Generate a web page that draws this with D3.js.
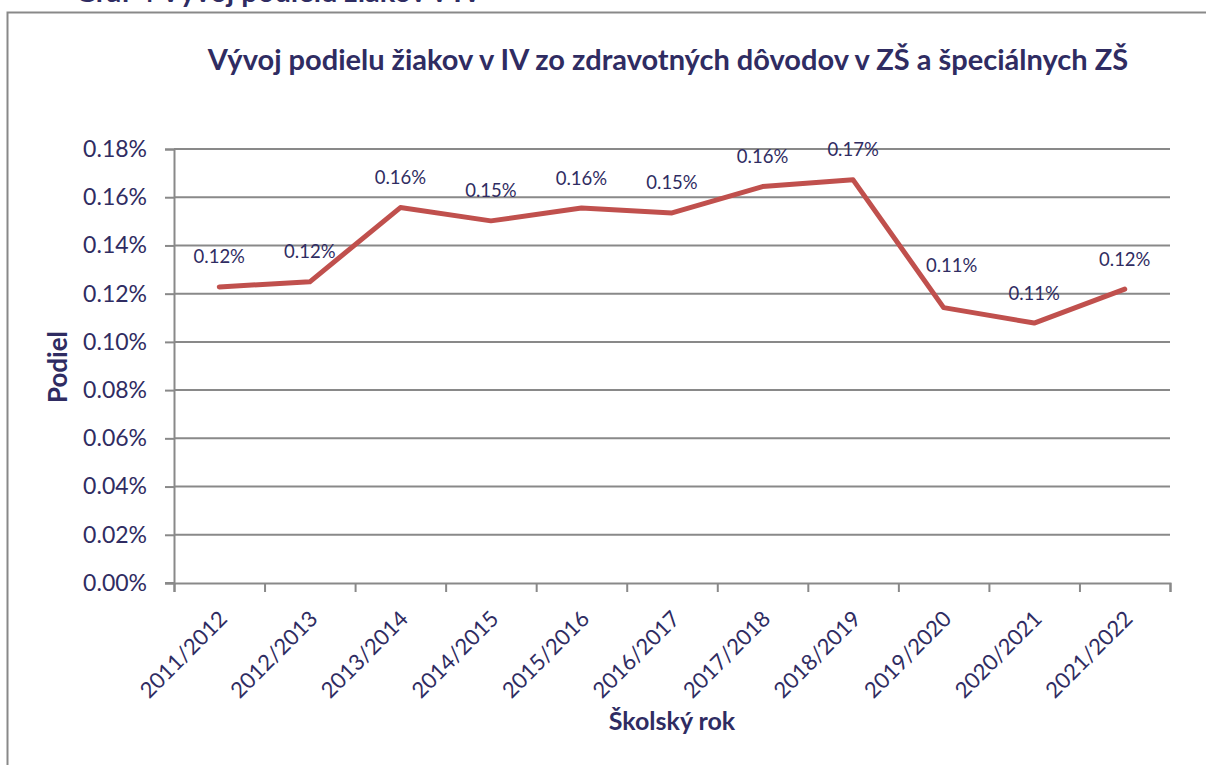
<!DOCTYPE html>
<html>
<head>
<meta charset="utf-8">
<script src="https://cdn.jsdelivr.net/npm/d3@7"></script>
<style>
  body { margin: 0; background: #fff; }
  text { font-family: Lato, "Open Sans", sans-serif; fill: #2f2c62; }
</style>
</head>
<body>
<script>
// data (share of pupils, as fraction)
var years = ["2011/2012", "2012/2013", "2013/2014", "2014/2015", "2015/2016", "2016/2017",
             "2017/2018", "2018/2019", "2019/2020", "2020/2021", "2021/2022"];
var podiel = [0.001228, 0.001249, 0.001557, 0.001502, 0.001555, 0.001535,
              0.001644, 0.001672, 0.001142, 0.001078, 0.001219];
var yTicks = [0, 0.0002, 0.0004, 0.0006, 0.0008, 0.0010, 0.0012, 0.0014, 0.0016, 0.0018];

var W = 1206, H = 765;
var margin = {top: 149, bottom: 182, left: 174, right: 36};

var svg = d3.select("body").append("svg")
    .attr("width", W)
    .attr("height", H);

// chart frame (cut off at right and bottom)
svg.append("rect")
    .attr("x", 7.5).attr("y", 12.5)
    .attr("width", W + 10).attr("height", H + 10)
    .attr("fill", "none")
    .attr("stroke", "#898989")
    .attr("stroke-width", 2);

// heading above the frame, mostly cut off
svg.append("text")
    .attr("x", 75).attr("y", 2)
    .style("font-size", "29px")
    .style("font-weight", "bold")
    .text("Graf 4 Vývoj podielu žiakov v IV");

var x = d3.scaleBand()
    .domain(years)
    .range([margin.left, W - margin.right]);

var y = d3.scaleLinear()
    .domain([0, 0.0018])
    .range([H - margin.bottom, margin.top]);

var fmt = d3.format(".2%");

// gridlines + y axis
var yAxis = svg.append("g")
    .attr("transform", "translate(" + margin.left + ",0)")
    .call(d3.axisLeft(y).tickValues(yTicks).tickFormat(fmt).tickSize(9).tickPadding(18));
yAxis.select(".domain").attr("stroke", "#898989").attr("stroke-width", 2);
yAxis.selectAll(".tick line").attr("stroke", "#898989").attr("stroke-width", 2);
yAxis.selectAll(".tick text").style("font-size", "23px").attr("fill", "#2f2c62");

svg.append("g")
    .selectAll("line")
    .data(yTicks.slice(1))
    .join("line")
    .attr("x1", margin.left).attr("x2", W - margin.right)
    .attr("y1", d => y(d)).attr("y2", d => y(d))
    .attr("stroke", "#898989")
    .attr("stroke-width", 2);

// x axis: ticks at band edges
var edges = d3.range(years.length + 1);
var xEdge = d3.scaleLinear().domain([0, years.length]).range(x.range());
var xAxis = svg.append("g")
    .attr("transform", "translate(0," + y(0) + ")")
    .call(d3.axisBottom(xEdge).tickValues(edges).tickFormat("").tickSize(9).tickSizeOuter(9));
xAxis.select(".domain").attr("stroke", "#898989").attr("stroke-width", 2);
xAxis.selectAll(".tick line").attr("stroke", "#898989").attr("stroke-width", 2);

svg.append("line")
    .attr("x1", margin.left - 9).attr("x2", margin.left)
    .attr("y1", y(0)).attr("y2", y(0))
    .attr("stroke", "#898989").attr("stroke-width", 2);

// rotated category labels
svg.append("g")
    .selectAll("text")
    .data(years)
    .join("text")
    .attr("transform", d => "translate(" + (x(d) + x.bandwidth() / 2 - 2) + "," + (y(0) + 26) + ") rotate(-45)")
    .attr("text-anchor", "end")
    .attr("dy", "0.72em")
    .style("font-size", "22px")
    .text(d => d);

// line
var line = d3.line()
    .x((d, i) => x(years[i]) + x.bandwidth() / 2)
    .y(d => y(d));

svg.append("path")
    .datum(podiel)
    .attr("d", line)
    .attr("fill", "none")
    .attr("stroke", "#c0504d")
    .attr("stroke-width", 5)
    .attr("stroke-linejoin", "round")
    .attr("stroke-linecap", "round");

// data labels, pushed further off a steep drop like the original
function steepDrop(i) {
    return i > 0 && podiel[i - 1] - podiel[i] > 0.0003;
}
svg.append("g")
    .selectAll("text")
    .data(podiel)
    .join("text")
    .attr("x", (d, i) => x(years[i]) + x.bandwidth() / 2 + (steepDrop(i) ? 8 : 0))
    .attr("y", (d, i) => y(d) - (steepDrop(i) ? 42 : 30))
    .attr("dy", "0.35em")
    .attr("text-anchor", "middle")
    .style("font-size", "18.5px")
    .text(d => fmt(d));

// titles
svg.append("text")
    .attr("x", 668).attr("y", 60)
    .attr("dy", "0.35em")
    .attr("text-anchor", "middle")
    .style("font-size", "29px")
    .style("font-weight", "bold")
    .text("Vývoj podielu žiakov v IV zo zdravotných dôvodov v ZŠ a špeciálnych ZŠ");

svg.append("text")
    .attr("transform", "translate(58,367) rotate(-90)")
    .attr("dy", "0.35em")
    .attr("text-anchor", "middle")
    .style("font-size", "26px")
    .style("font-weight", "bold")
    .text("Podiel");

svg.append("text")
    .attr("x", 672).attr("y", 721)
    .attr("dy", "0.35em")
    .attr("text-anchor", "middle")
    .style("font-size", "25px")
    .style("font-weight", "bold")
    .text("Školský rok");
</script>
</body>
</html>
